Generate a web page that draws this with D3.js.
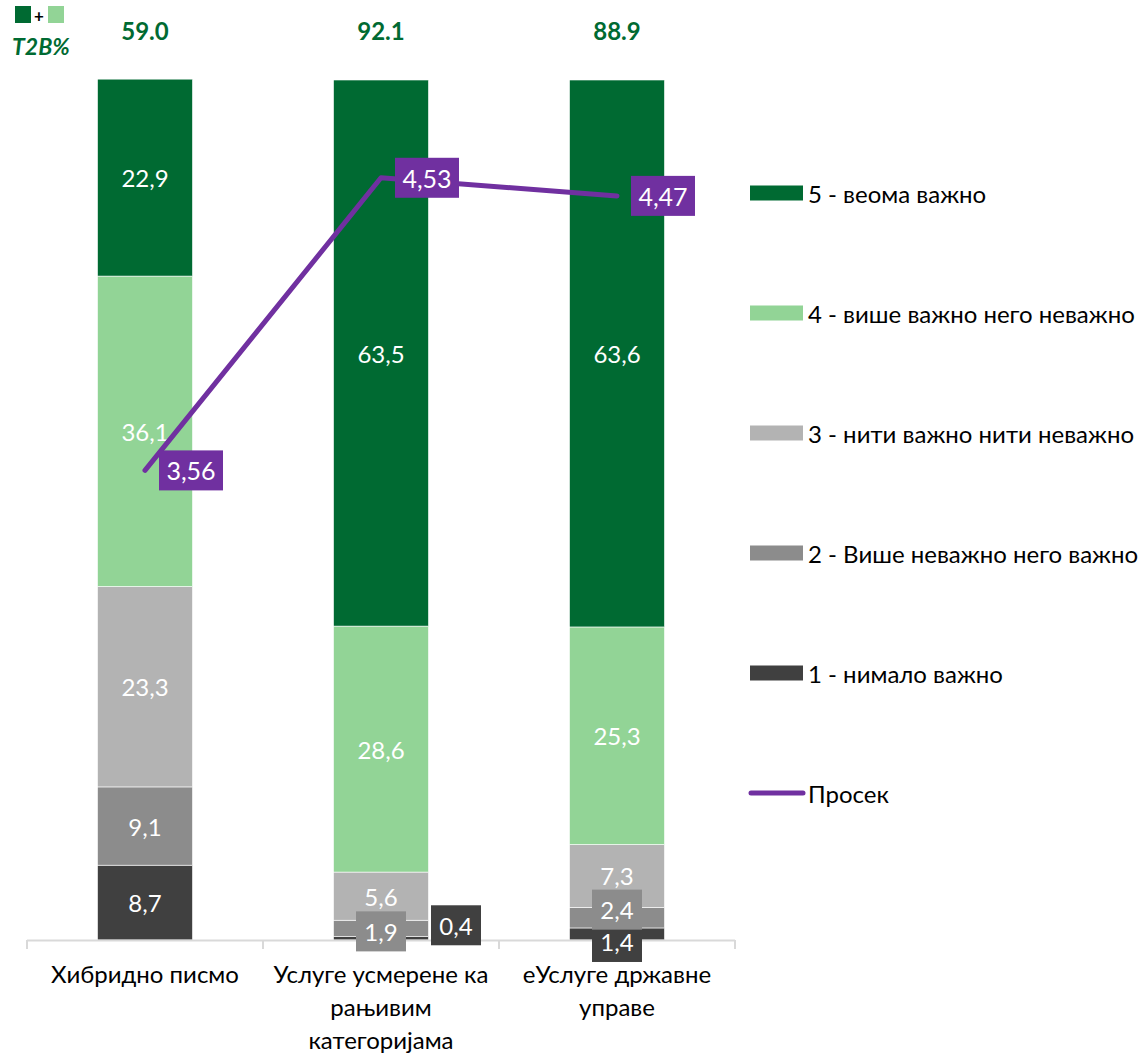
<!DOCTYPE html>
<html>
<head>
<meta charset="utf-8">
<script src="https://cdn.jsdelivr.net/npm/d3@7"></script>
<style>
  body { margin: 0; background: #fff; }
  svg { font-family: Lato, "Open Sans", sans-serif; }
</style>
</head>
<body>
<svg id="chart"></svg>
<script>
// ---- data ----
const categories = ["Хибридно писмо", "Услуге усмерене ка рањивим категоријама", "еУслуге државне управе"];
const categoryLines = [
  ["Хибридно писмо"],
  ["Услуге усмерене ка", "рањивим", "категоријама"],
  ["еУслуге државне", "управе"]
];
const seriesNames = [
  "1 - нимало важно",
  "2 - Више неважно него важно",
  "3 - нити важно нити неважно",
  "4 - више важно него неважно",
  "5 - веома важно"
];
const s1 = [8.7, 0.4, 1.4];
const s2 = [9.1, 1.9, 2.4];
const s3 = [23.3, 5.6, 7.3];
const s4 = [36.1, 28.6, 25.3];
const s5 = [22.9, 63.5, 63.6];
const average = [3.56, 4.53, 4.47];
const t2b = [59.0, 92.1, 88.9];
const averageName = "Просек";

// ---- layout ----
const W = 1145, H = 1054;
const colors = ["#404040", "#8c8c8c", "#b3b3b3", "#92d496", "#006a32"];
const purple = "#7030a0";
const green = "#006a32";

const svg = d3.select("#chart").attr("width", W).attr("height", H);

const table = categories.map((c, i) => ({
  cat: c, s0: s1[i], s1: s2[i], s2: s3[i], s3: s4[i], s4: s5[i]
}));
const keys = ["s0", "s1", "s2", "s3", "s4"];
const stacked = d3.stack().keys(keys)(table);

const x = d3.scaleBand().domain(categories).range([27, 735]).paddingInner(0).paddingOuter(0);
const barW = 95;
const y = d3.scaleLinear().domain([0, 100]).range([940, 80]);
const yAvg = d3.scaleLinear().domain([2, 5]).range([941, 36]);
const cx = c => x(c) + x.bandwidth() / 2;

// bars
stacked.forEach((layer, si) => {
  svg.append("g").selectAll("rect")
    .data(layer)
    .enter()
    .append("rect")
    .attr("x", d => cx(d.data.cat) - barW / 2)
    .attr("y", d => y(d[1]))
    .attr("width", barW)
    .attr("height", d => y(d[0]) - y(d[1]))
    .attr("fill", colors[si])
    .attr("stroke", "#fff")
    .attr("stroke-width", 0.6);
});

// axis line with ticks between categories
const axisG = svg.append("g");
axisG.append("line")
  .attr("x1", x.range()[0]).attr("x2", x.range()[1])
  .attr("y1", 940.5).attr("y2", 940.5)
  .attr("stroke", "#d9d9d9").attr("stroke-width", 2);
const tickXs = categories.map(c => x(c)).concat([x.range()[1]]);
axisG.selectAll(".tick")
  .data(tickXs)
  .enter()
  .append("line")
  .attr("x1", d => d).attr("x2", d => d)
  .attr("y1", 940).attr("y2", 949)
  .attr("stroke", "#d9d9d9").attr("stroke-width", 2);

// segment labels; small ones get a box and a nudge
const nudges = {
  "0|1": [75, -13],
  "1|1": [0, 3],
  "1|2": [0, -8],
  "0|2": [0, 8]
};
stacked.forEach((layer, si) => {
  layer.forEach((d, ci) => {
    const v = d[1] - d[0];
    const key = si + "|" + ci;
    const n = nudges[key] || [0, 0];
    const px = cx(d.data.cat) + n[0];
    const py = (y(d[0]) + y(d[1])) / 2 + n[1];
    const txt = d3.format(".1f")(v).replace(".", ",");
    if (nudges[key]) {
      svg.append("rect")
        .attr("x", px - 25).attr("y", py - 20)
        .attr("width", 50).attr("height", 40)
        .attr("fill", colors[si]);
    }
    svg.append("text")
      .attr("x", px).attr("y", py)
      .attr("text-anchor", "middle")
      .attr("dominant-baseline", "central")
      .attr("font-size", 24)
      .attr("fill", "#fff")
      .text(txt);
  });
});

// average line
const line = d3.line()
  .x((d, i) => cx(categories[i]))
  .y(d => yAvg(d));
svg.append("path")
  .datum(average)
  .attr("d", line)
  .attr("fill", "none")
  .attr("stroke", purple)
  .attr("stroke-width", 5)
  .attr("stroke-linecap", "round")
  .attr("stroke-linejoin", "round");

average.forEach((v, i) => {
  const px = cx(categories[i]) + 14;
  const py = yAvg(v);
  svg.append("rect")
    .attr("x", px).attr("y", py - 20)
    .attr("width", 64).attr("height", 40)
    .attr("fill", purple);
  svg.append("text")
    .attr("x", px + 32).attr("y", py)
    .attr("text-anchor", "middle")
    .attr("dominant-baseline", "central")
    .attr("font-size", 25)
    .attr("fill", "#fff")
    .text(d3.format(".2f")(v).replace(".", ","));
});

// T2B values at top
svg.append("g").selectAll("text")
  .data(t2b)
  .enter()
  .append("text")
  .attr("x", (d, i) => cx(categories[i]))
  .attr("y", 30)
  .attr("text-anchor", "middle")
  .attr("dominant-baseline", "central")
  .attr("font-size", 24)
  .attr("font-weight", "bold")
  .attr("fill", green)
  .text(d => d3.format(".1f")(d));

// T2B key top-left
svg.append("rect").attr("x", 15).attr("y", 6).attr("width", 16).attr("height", 17).attr("fill", colors[4]);
svg.append("text").attr("x", 39).attr("y", 15).attr("text-anchor", "middle")
  .attr("dominant-baseline", "central").attr("font-size", 17).attr("font-weight", "bold")
  .attr("fill", "#000").text("+");
svg.append("rect").attr("x", 48).attr("y", 6).attr("width", 16).attr("height", 17).attr("fill", colors[3]);
svg.append("text").attr("x", 12).attr("y", 46)
  .attr("dominant-baseline", "central").attr("font-size", 23)
  .attr("font-weight", "bold").attr("font-style", "italic")
  .attr("fill", green).text("T2B%");

// category labels
categoryLines.forEach((lines, i) => {
  const t = svg.append("text")
    .attr("x", cx(categories[i]))
    .attr("y", 973)
    .attr("text-anchor", "middle")
    .attr("font-size", 24)
    .attr("fill", "#000");
  lines.forEach((l, j) => {
    t.append("tspan")
      .attr("x", cx(categories[i]))
      .attr("y", 973 + j * 33)
      .attr("dominant-baseline", "central")
      .text(l);
  });
});

// legend
const legendItems = seriesNames.map((n, i) => ({ name: n, color: colors[i], type: "rect" })).reverse()
  .concat([{ name: averageName, color: purple, type: "line" }]);
const lg = svg.append("g").selectAll("g")
  .data(legendItems)
  .enter()
  .append("g")
  .attr("transform", (d, i) => `translate(750, ${193 + i * 120})`);
lg.filter(d => d.type === "rect").append("rect")
  .attr("x", 0).attr("y", -7.5).attr("width", 53).attr("height", 15)
  .attr("fill", d => d.color);
lg.filter(d => d.type === "line").append("line")
  .attr("x1", 1).attr("x2", 53).attr("y1", 0).attr("y2", 0)
  .attr("stroke", d => d.color).attr("stroke-width", 5).attr("stroke-linecap", "round");
lg.append("text")
  .attr("x", 58).attr("y", 0)
  .attr("dominant-baseline", "central")
  .attr("font-size", 24)
  .attr("fill", "#000")
  .text(d => d.name);
</script>
</body>
</html>
